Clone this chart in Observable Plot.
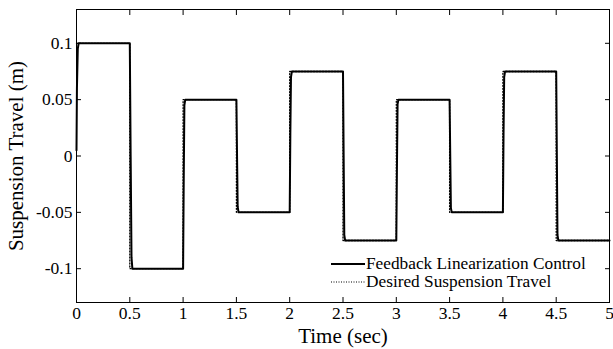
<!DOCTYPE html>
<html><head><meta charset="utf-8">
<script src="https://cdn.jsdelivr.net/npm/d3@7"></script>
<script src="https://cdn.jsdelivr.net/npm/@observablehq/plot@0.6"></script>
<style>
body{margin:0;background:#fff;font-family:"Liberation Serif","DejaVu Serif",serif;}
#wrap{position:relative;width:613px;height:349px;}
#legend{position:absolute;left:331px;top:255px;font-size:17.3px;line-height:18px;color:#000;}
#legend div{display:flex;align-items:center;}
#legend svg{margin-right:1px;}
</style></head><body>
<div id="wrap"><div id="chart"></div>
<div id="legend">
<div><svg width="34" height="10"><line x1="0" y1="5" x2="34" y2="5" stroke="#000" stroke-width="2"/></svg>Feedback Linearization Control</div>
<div><svg width="34" height="10"><line x1="0" y1="5" x2="34" y2="5" stroke="#000" stroke-width="1" stroke-dasharray="1,1.5"/></svg>Desired Suspension Travel</div>
</div></div>
<script>
// Desired square-wave reference
const switchTimes = [0, 0.5, 1, 1.5, 2, 2.5, 3, 3.5, 4, 4.5, 5];
const desiredLevels = [0.1, -0.1, 0.05, -0.05, 0.075, -0.075, 0.05, -0.05, 0.075, -0.075, -0.075];
// Feedback linearization response
const feedbackTime = [0, 0.004, 0.012, 0.02,
  0.5, 0.508, 0.516, 0.524,
  1.0, 1.006, 1.012, 1.02,
  1.5, 1.506, 1.512, 1.52,
  2.0, 2.006, 2.012, 2.02,
  2.5, 2.506, 2.512, 2.52,
  3.0, 3.006, 3.012, 3.02,
  3.5, 3.506, 3.512, 3.52,
  4.0, 4.006, 4.012, 4.02,
  4.5, 4.506, 4.512, 4.52, 5];
const feedbackValue = [0.005, 0.06, 0.095, 0.1,
  0.1, 0.0, -0.09, -0.1,
  -0.1, -0.02, 0.045, 0.05,
  0.05, 0.0, -0.045, -0.05,
  -0.05, 0.02, 0.07, 0.075,
  0.075, 0.0, -0.07, -0.075,
  -0.075, -0.01, 0.046, 0.05,
  0.05, 0.0, -0.046, -0.05,
  -0.05, 0.02, 0.07, 0.075,
  0.075, 0.0, -0.07, -0.075, -0.075];
const xTicks = [0, 0.5, 1, 1.5, 2, 2.5, 3, 3.5, 4, 4.5, 5];
const yTicks = [-0.1, -0.05, 0, 0.05, 0.1];
const yTickLabels = ["-0.1", "-0.05", "0", "0.05", "0.1"];
const xTitle = "Time (sec)";
const yTitle = "Suspension Travel (m)";

const desired = switchTimes.map((t, i) => ({t, v: desiredLevels[i]}));
const feedback = feedbackTime.map((t, i) => ({t, v: feedbackValue[i]}));
const fmtX = d => String(d);
const fmtY = d => yTickLabels[yTicks.indexOf(d)] ?? String(d);

const chart = Plot.plot({
  width: 613, height: 349,
  marginLeft: 76, marginRight: 4, marginTop: 9, marginBottom: 47,
  style: {fontFamily: '"Liberation Serif", serif', fontSize: "17.5px", color: "#000", background: "#fff"},
  x: {domain: [0, 5]},
  y: {domain: [-0.13, 0.13]},
  marks: [
    Plot.line(desired, {x: "t", y: "v", curve: "step-after", stroke: "#000", strokeWidth: 1.3, strokeDasharray: "1,2"}),
    Plot.line(feedback, {x: "t", y: "v", stroke: "#000", strokeWidth: 2}),
    Plot.frame({stroke: "#000", strokeWidth: 1}),
    Plot.axisX({anchor: "bottom", ticks: xTicks, tickFormat: fmtX, tickSize: -5, tickPadding: 9, label: null, fontSize: 17.5}),
    Plot.axisX({anchor: "top", ticks: xTicks, tickSize: -5, tickFormat: () => "", label: null}),
    Plot.axisY({anchor: "left", ticks: yTicks, tickFormat: fmtY, tickSize: -5, tickPadding: 9, label: null, fontSize: 17.5}),
    Plot.axisY({anchor: "right", ticks: yTicks, tickSize: -5, tickFormat: () => "", label: null}),
    Plot.text([xTitle], {frameAnchor: "bottom", textAnchor: "middle", lineAnchor: "middle", dy: 34, fontSize: 21}),
    Plot.text([yTitle], {frameAnchor: "left", textAnchor: "middle", lineAnchor: "middle", rotate: -90, dx: -60, fontSize: 21})
  ]
});
document.getElementById("chart").appendChild(chart);
</script></body></html>
